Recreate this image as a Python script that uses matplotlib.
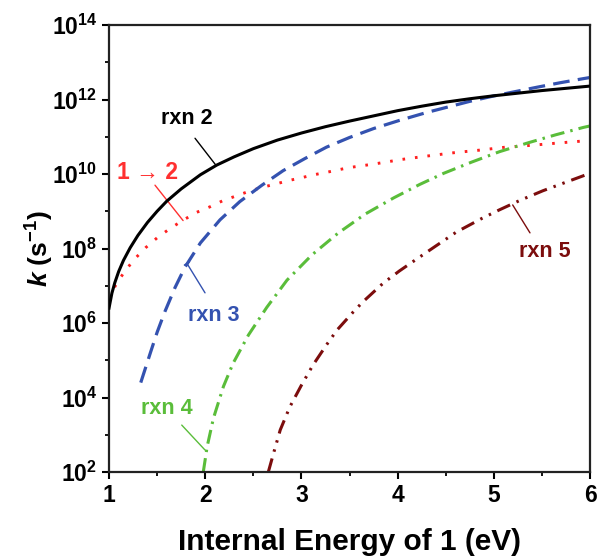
import numpy as np
import matplotlib
matplotlib.use('Agg')
import matplotlib.pyplot as plt
from matplotlib.ticker import FixedLocator, NullFormatter

plt.rcParams['font.family'] = ['Liberation Sans', 'DejaVu Sans']
plt.rcParams['font.weight'] = 'bold'
plt.rcParams['mathtext.fontset'] = 'custom'
plt.rcParams['mathtext.rm'] = 'Liberation Sans:bold'
plt.rcParams['mathtext.bf'] = 'Liberation Sans:bold'
plt.rcParams['mathtext.it'] = 'Liberation Sans:bold:italic'
plt.rcParams['mathtext.default'] = 'bf'

# values, k given as log10(k / s^-1)
x_rxn2 = [1.0, 1.03, 1.06, 1.1, 1.15, 1.22, 1.3, 1.4, 1.5, 1.6, 1.75, 1.95, 2.12, 2.3, 2.5,
          2.75, 3.0, 3.25, 3.5, 3.75, 4.0, 4.25, 4.5, 4.75, 5.0, 5.25, 5.5, 5.75, 6.0]
logk_rxn2 = [6.4, 6.8, 7.08, 7.38, 7.68, 8.02, 8.35, 8.7, 9.0, 9.27, 9.6, 9.98, 10.24, 10.46, 10.68,
             10.91, 11.1, 11.27, 11.42, 11.56, 11.7, 11.82, 11.93, 12.02, 12.1, 12.17, 12.24, 12.3, 12.36]

x_1to2 = [1.0, 1.07, 1.156, 1.263, 1.38, 1.506, 1.637, 1.77, 1.91, 2.05, 2.18, 2.32, 2.46, 2.59,
          2.73, 2.86, 3.0, 3.13, 3.27, 3.49, 3.76, 4.04, 4.3, 4.58, 4.85, 5.12, 5.39, 5.66, 5.9, 6.0]
logk_1to2 = [6.66, 7.02, 7.36, 7.71, 8.02, 8.3, 8.54, 8.76, 8.97, 9.12, 9.28, 9.41, 9.54, 9.64,
             9.73, 9.82, 9.9, 9.98, 10.05, 10.17, 10.27, 10.39, 10.48, 10.57, 10.64, 10.72, 10.77, 10.83, 10.88, 10.9]

x_rxn3 = [1.33, 1.43, 1.5, 1.58, 1.686, 1.79, 1.95, 2.154, 2.36, 2.59, 2.81, 3.04, 3.26, 3.5,
          3.75, 4.02, 4.3, 4.51, 4.75, 4.99, 5.2, 5.45, 5.69, 5.93, 6.0]
logk_rxn3 = [4.4, 5.2, 5.75, 6.3, 6.95, 7.5, 8.15, 8.77, 9.26, 9.7, 10.09, 10.42, 10.72, 10.98,
             11.22, 11.44, 11.65, 11.79, 11.95, 12.09, 12.2, 12.33, 12.45, 12.56, 12.59]

x_rxn4 = [1.98, 2.02, 2.085, 2.19, 2.29, 2.45, 2.64, 2.85, 3.11, 3.38, 3.66, 3.96, 4.23, 4.48,
          4.77, 5.06, 5.36, 5.64, 5.93, 6.0]
logk_rxn4 = [2.0, 2.68, 3.44, 4.3, 4.92, 5.68, 6.42, 7.15, 7.83, 8.41, 8.92, 9.36, 9.72, 10.02,
             10.32, 10.6, 10.84, 11.05, 11.25, 11.29]

x_rxn5 = [2.656, 2.71, 2.78, 2.88, 3.0, 3.12, 3.26, 3.37, 3.54, 3.64, 3.85, 4.02, 4.2, 4.37,
          4.61, 4.87, 5.06, 5.27, 5.51, 5.76, 5.98, 6.0]
logk_rxn5 = [2.0, 2.5, 3.13, 3.75, 4.33, 4.87, 5.41, 5.81, 6.3, 6.57, 7.07, 7.4, 7.72, 8.02,
             8.44, 8.8, 9.04, 9.29, 9.55, 9.79, 10.0, 10.02]

ytick_powers = list(range(2, 15, 2))
xticks = [1, 2, 3, 4, 5, 6]

fig = plt.figure(figsize=(5.97, 5.58), dpi=100)
ax = fig.add_axes([0.1826, 0.1541, 0.8057, 0.8011])

c_red, c_blue, c_green, c_dred = '#ff2020', '#3452b0', '#5abd3a', '#7c0d0d'

ax.plot(x_rxn2, 10 ** np.array(logk_rxn2), color='black', lw=2.2, zorder=5)
ax.plot(x_1to2, 10 ** np.array(logk_1to2), color=c_red, lw=2.1, linestyle=(0, (0.9, 3.4)))
ax.plot(x_rxn3, 10 ** np.array(logk_rxn3), color=c_blue, lw=2.3, linestyle=(0, (5.2, 2.6)))
ax.plot(x_rxn4, 10 ** np.array(logk_rxn4), color=c_green, lw=2.2, linestyle=(0, (4.6, 2.0, 0.8, 2.0)))
ax.plot(x_rxn5, 10 ** np.array(logk_rxn5), color=c_dred, lw=2.2,
        linestyle=(0, (4.6, 2.3, 0.8, 2.3, 0.8, 2.3)))

ax.set_yscale('log')
ax.set_xlim(1, 6)
ax.set_ylim(1e2, 1e14)
ax.yaxis.set_major_locator(FixedLocator([10.0 ** p for p in ytick_powers]))
ax.yaxis.set_minor_locator(FixedLocator([10.0 ** (p + 1) for p in ytick_powers[:-1]]))
ax.yaxis.set_minor_formatter(NullFormatter())
ax.set_yticklabels([r'$10^{%d}$' % p for p in ytick_powers])
ax.xaxis.set_major_locator(FixedLocator(xticks))
ax.xaxis.set_minor_locator(FixedLocator([t + 0.5 for t in xticks[:-1]]))
ax.set_xticklabels([str(t) for t in xticks])

ax.tick_params(which='major', direction='out', length=5, width=1.5, labelsize=16.5, pad=3.5)
ax.tick_params(which='minor', direction='out', length=3, width=1.3)
for s in ax.spines.values():
    s.set_linewidth(1.6)
    s.set_color('#222222')

ax.set_xlabel('Internal Energy of 1 (eV)', fontsize=21.5, fontweight='bold', labelpad=15)
ax.set_ylabel(r'$\mathit{k}$ (s$^{-1}$)', fontsize=19, fontweight='bold', labelpad=-3)

# labels with their pointer lines
lbl = dict(fontsize=15.5, fontweight='bold', ha='center', va='center')
ax.text(1.81, 10 ** 11.5, 'rxn 2', color='black', **lbl)
ax.annotate('', xy=(2.11, 10 ** 10.24), xytext=(1.894, 10 ** 10.96),
            arrowprops=dict(arrowstyle='-', color='black', lw=1.0, shrinkA=0, shrinkB=0))

ax.text(1.395, 10 ** 10.05, '1 → 2', color='#ff3030', fontsize=16.5, fontweight='bold',
        ha='center', va='center')
ax.annotate('', xy=(1.77, 10 ** 8.75), xytext=(1.478, 10 ** 9.7),
            arrowprops=dict(arrowstyle='-', color='#ff3030', lw=1.0, shrinkA=0, shrinkB=0))

ax.text(2.084, 10 ** 6.2, 'rxn 3', color=c_blue, **lbl)
ax.annotate('', xy=(1.81, 10 ** 7.6), xytext=(1.998, 10 ** 6.81),
            arrowprops=dict(arrowstyle='-[, widthB=0.22, lengthB=0', color=c_blue, lw=1.0,
                            shrinkA=0, shrinkB=0))

ax.text(1.6, 10 ** 3.71, 'rxn 4', color=c_green, **lbl)
ax.annotate('', xy=(1.998, 10 ** 2.59), xytext=(1.756, 10 ** 3.26),
            arrowprops=dict(arrowstyle='-', color=c_green, lw=1.0, shrinkA=0, shrinkB=0))

ax.text(5.53, 10 ** 7.91, 'rxn 5', color=c_dred, **lbl)
ax.annotate('', xy=(5.196, 10 ** 9.17), xytext=(5.376, 10 ** 8.42),
            arrowprops=dict(arrowstyle='-', color=c_dred, lw=1.0, shrinkA=0, shrinkB=0))

fig.savefig('out.png', dpi=100)
